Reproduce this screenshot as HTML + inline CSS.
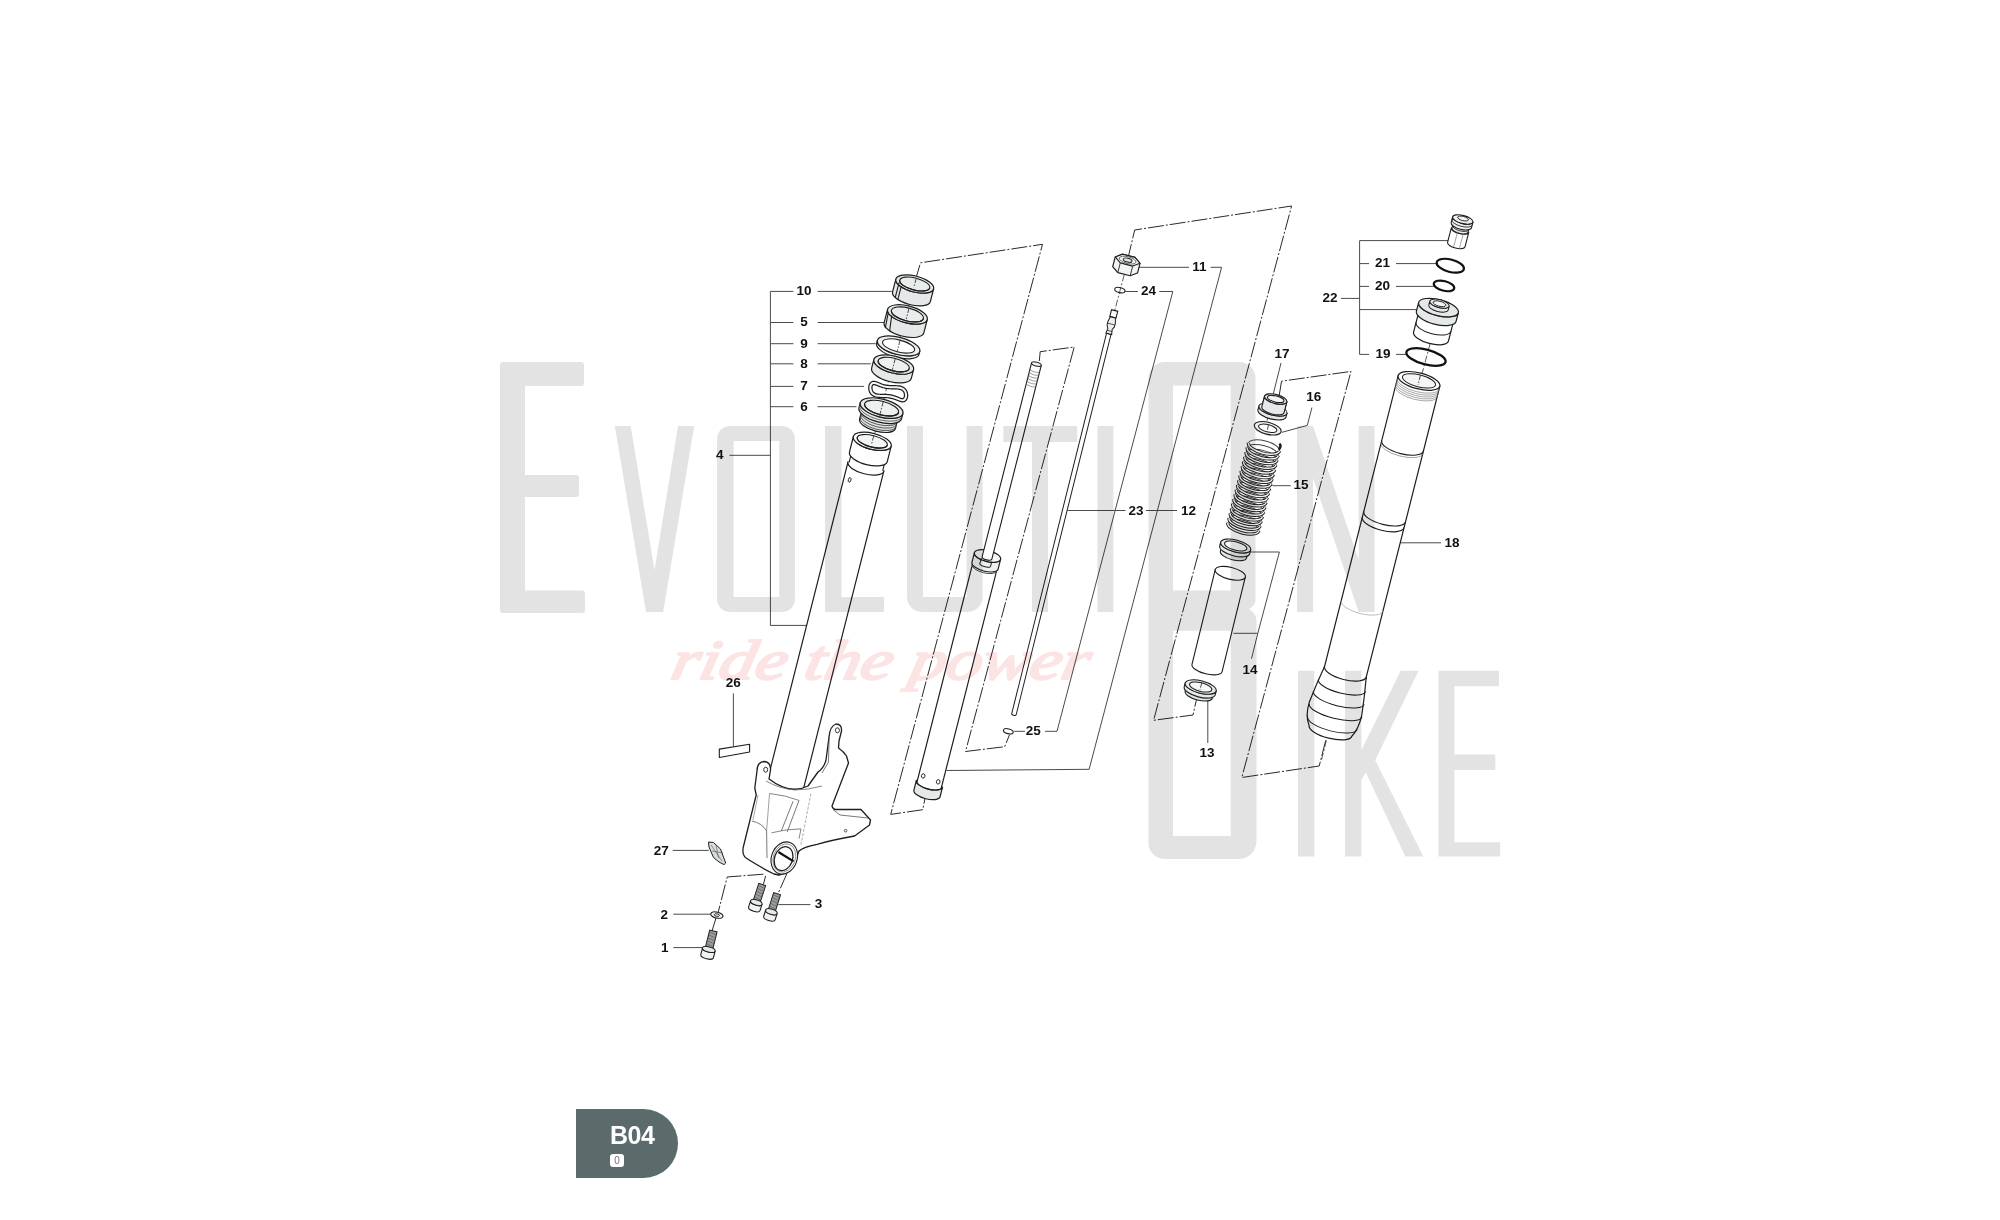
<!DOCTYPE html>
<html><head><meta charset="utf-8">
<style>
html,body{margin:0;padding:0;background:#fff;}
body{width:2000px;height:1220px;overflow:hidden;position:relative;font-family:"Liberation Sans",sans-serif;}
svg{position:absolute;left:0;top:0;}
.lb{font-family:"Liberation Sans",sans-serif;font-weight:bold;font-size:13.5px;fill:#111;}
.badge{position:absolute;left:576px;top:1109px;width:102px;height:69px;background:#5b6a6a;border-radius:0 35px 35px 0;}
.badge .t{position:absolute;left:34px;top:11px;color:#fff;font-weight:bold;font-size:25px;letter-spacing:-0.5px;line-height:30px;}
.badge .s{position:absolute;left:34px;top:45px;width:14px;height:13px;background:#fff;border-radius:3px;color:#6a7676;font-size:10px;line-height:13px;text-align:center;}
</style></head><body>
<svg width="2000" height="1220" viewBox="0 0 2000 1220">
<polyline points="793.4,291.4 770.4,291.4 770.4,625.4 813.8,625.4" fill="none" stroke="#4a4a4a" stroke-width="1.0" />
<line x1="770.4" y1="322.5" x2="793.4" y2="322.5" stroke="#4a4a4a" stroke-width="1.0" />
<line x1="770.4" y1="343.7" x2="793.4" y2="343.7" stroke="#4a4a4a" stroke-width="1.0" />
<line x1="770.4" y1="363.8" x2="793.4" y2="363.8" stroke="#4a4a4a" stroke-width="1.0" />
<line x1="770.4" y1="386.4" x2="793.4" y2="386.4" stroke="#4a4a4a" stroke-width="1.0" />
<line x1="770.4" y1="406.7" x2="793.4" y2="406.7" stroke="#4a4a4a" stroke-width="1.0" />
<line x1="729.5" y1="455.3" x2="770.4" y2="455.3" stroke="#4a4a4a" stroke-width="1.0" />
<line x1="817.6" y1="291.4" x2="891.8" y2="291.4" stroke="#4a4a4a" stroke-width="1.0" />
<line x1="817.6" y1="322.5" x2="884" y2="322.5" stroke="#4a4a4a" stroke-width="1.0" />
<line x1="817.6" y1="343.7" x2="875.7" y2="343.7" stroke="#4a4a4a" stroke-width="1.0" />
<line x1="817.6" y1="363.8" x2="870.8" y2="363.8" stroke="#4a4a4a" stroke-width="1.0" />
<line x1="817.6" y1="386.4" x2="864" y2="386.4" stroke="#4a4a4a" stroke-width="1.0" />
<line x1="817.6" y1="406.7" x2="856.4" y2="406.7" stroke="#4a4a4a" stroke-width="1.0" />
<line x1="733.4" y1="693.4" x2="733.4" y2="746.2" stroke="#4a4a4a" stroke-width="1.0" />
<line x1="672.7" y1="850.4" x2="708.8" y2="850.4" stroke="#4a4a4a" stroke-width="1.0" />
<line x1="673.3" y1="914.2" x2="710.6" y2="914.2" stroke="#4a4a4a" stroke-width="1.0" />
<line x1="673.3" y1="947.6" x2="703.1" y2="947.6" stroke="#4a4a4a" stroke-width="1.0" />
<line x1="778.3" y1="904.6" x2="810.4" y2="904.6" stroke="#4a4a4a" stroke-width="1.0" />
<line x1="1139.2" y1="267.3" x2="1189" y2="267.3" stroke="#4a4a4a" stroke-width="1.0" />
<polyline points="1210.6,267.3 1221.6,267.3 1089.1,769.3 946.5,770.5" fill="none" stroke="#4a4a4a" stroke-width="1.0" />
<line x1="1125.2" y1="291.5" x2="1137.8" y2="291.5" stroke="#4a4a4a" stroke-width="1.0" />
<polyline points="1159.3,291.5 1172.8,291.5 1057,731.3 1045.1,731.3" fill="none" stroke="#4a4a4a" stroke-width="1.0" />
<line x1="1014.2" y1="731.3" x2="1024.9" y2="731.3" stroke="#4a4a4a" stroke-width="1.0" />
<line x1="1067.5" y1="510.5" x2="1125.5" y2="510.5" stroke="#4a4a4a" stroke-width="1.0" />
<line x1="1146" y1="510.5" x2="1177" y2="510.5" stroke="#4a4a4a" stroke-width="1.0" />
<polyline points="1449,240.6 1359.6,240.6 1359.6,354.4 1369,354.4" fill="none" stroke="#4a4a4a" stroke-width="1.0" />
<line x1="1359.6" y1="263.6" x2="1369" y2="263.6" stroke="#4a4a4a" stroke-width="1.0" />
<line x1="1359.6" y1="286.4" x2="1369" y2="286.4" stroke="#4a4a4a" stroke-width="1.0" />
<line x1="1396" y1="263.6" x2="1437" y2="263.6" stroke="#4a4a4a" stroke-width="1.0" />
<line x1="1396" y1="286.4" x2="1434" y2="286.4" stroke="#4a4a4a" stroke-width="1.0" />
<line x1="1341" y1="298.4" x2="1359.6" y2="298.4" stroke="#4a4a4a" stroke-width="1.0" />
<line x1="1359.6" y1="309.6" x2="1418" y2="309.6" stroke="#4a4a4a" stroke-width="1.0" />
<line x1="1396" y1="354.4" x2="1406" y2="354.4" stroke="#4a4a4a" stroke-width="1.0" />
<line x1="1281" y1="363" x2="1273" y2="395" stroke="#4a4a4a" stroke-width="1.0" />
<polyline points="1282,432.3 1307.3,425.4 1311.9,407.6" fill="none" stroke="#4a4a4a" stroke-width="1.0" />
<line x1="1272.3" y1="485.7" x2="1290.7" y2="485.7" stroke="#4a4a4a" stroke-width="1.0" />
<line x1="1392.8" y1="542.8" x2="1441.1" y2="542.8" stroke="#4a4a4a" stroke-width="1.0" />
<polyline points="1251,552 1279.4,552 1257.8,633.3 1251.5,658.7" fill="none" stroke="#4a4a4a" stroke-width="1.0" />
<line x1="1233.4" y1="633.3" x2="1257.8" y2="633.3" stroke="#4a4a4a" stroke-width="1.0" />
<line x1="1207.8" y1="699.6" x2="1207.8" y2="743" stroke="#4a4a4a" stroke-width="1.0" />
<polyline points="915.4,280.2 920.5,262.8 1042.5,244.3 890.7,814.4 922.8,809.7 925.1,797.8" fill="none" stroke="#2a2a2a" stroke-width="1.0" stroke-dasharray="16 2 2 2"/>
<polyline points="1039.3,361 1040.2,351.7 1074.2,347 965.5,751.5 1004.7,746.7 1009.5,734.8" fill="none" stroke="#2a2a2a" stroke-width="1.0" stroke-dasharray="16 2 2 2"/>
<polyline points="1127.6,259.7 1134.7,230 1291.6,206 1153.6,720.3 1193,715 1196.8,698" fill="none" stroke="#2a2a2a" stroke-width="1.0" stroke-dasharray="16 2 2 2"/>
<polyline points="1279.2,395.6 1281.5,381.2 1351,371.4 1241.8,777.5 1319.2,766 1325.8,740.2" fill="none" stroke="#2a2a2a" stroke-width="1.0" stroke-dasharray="16 2 2 2"/>
<polyline points="763.4,874.2 727.2,877 718,913" fill="none" stroke="#2a2a2a" stroke-width="1.0" stroke-dasharray="16 2 2 2"/>
<polyline points="716,918 712,931" fill="none" stroke="#2a2a2a" stroke-width="1.0" stroke-dasharray="16 2 2 2"/>
<polyline points="765.6,875.9 763.4,884.5" fill="none" stroke="#2a2a2a" stroke-width="1.0" stroke-dasharray="16 2 2 2"/>
<polyline points="786.9,873.6 777.7,894.3" fill="none" stroke="#2a2a2a" stroke-width="1.0" stroke-dasharray="16 2 2 2"/>
<polyline points="914,284 871,448" fill="none" stroke="#333" stroke-width="0.8" stroke-dasharray="7 2 2 2"/>
<polyline points="1127.6,262 1114.6,311" fill="none" stroke="#333" stroke-width="0.8" stroke-dasharray="7 2 2 2"/>
<polyline points="1437,318 1419,385" fill="none" stroke="#333" stroke-width="0.8" stroke-dasharray="7 2 2 2"/>
<polyline points="1271,401 1265,432" fill="none" stroke="#333" stroke-width="0.8" stroke-dasharray="7 2 2 2"/>
<polyline points="1326.4,740.3 1321.5,760" fill="none" stroke="#333" stroke-width="0.8" stroke-dasharray="7 2 2 2"/>
<g transform="translate(913.1,290.4) rotate(14.5)">
<path d="M-19.5,-6.6L-19.5,6.6A19.5,8 0 0 0 19.5,6.6L19.5,-6.6A19.5,8 0 0 1 -19.5,-6.6Z" fill="#e4e8e8" stroke="#1e1e1e" stroke-width="1.2" stroke-linejoin="round"/>
<ellipse cx="0" cy="-6.6" rx="19.5" ry="8" fill="#e4e8e8" stroke="#1e1e1e" stroke-width="1.2" />
<ellipse cx="0" cy="-6.6" rx="15.5" ry="6" fill="#e9ecec" stroke="#1e1e1e" stroke-width="1.08" />
<path d="M-15.5,-6.6A15.5,6 0 0 0 15.5,-6.6" fill="none" stroke="#1e1e1e" stroke-width="1.2"/>
<line x1="-12.5" y1="-1.5" x2="-12.5" y2="12.5" stroke="#1e1e1e" stroke-width="1.1" />
<line x1="-15.5" y1="-4" x2="-15.5" y2="11" stroke="#1e1e1e" stroke-width="1.1" />
<line x1="0" y1="-12.6" x2="0" y2="-3" stroke="#333" stroke-width="0.8" stroke-dasharray="5 1.5 1.5 1.5"/>
</g>
<g transform="translate(905.7,321.1) rotate(14.5)">
<path d="M-20.5,-6.9L-20.5,6.9A20.5,8.5 0 0 0 20.5,6.9L20.5,-6.9A20.5,8.5 0 0 1 -20.5,-6.9Z" fill="#e4e8e8" stroke="#1e1e1e" stroke-width="1.2" stroke-linejoin="round"/>
<ellipse cx="0" cy="-6.9" rx="20.5" ry="8.5" fill="#e4e8e8" stroke="#1e1e1e" stroke-width="1.2" />
<ellipse cx="0" cy="-6.9" rx="16.5" ry="6.5" fill="#e9ecec" stroke="#1e1e1e" stroke-width="1.08" />
<path d="M-16.5,-6.9A16.5,6.5 0 0 0 16.5,-6.9" fill="none" stroke="#1e1e1e" stroke-width="1.2"/>
<path d="M-15,-2L-13,14M-19,-4L-18,12" fill="none" stroke="#1e1e1e" stroke-width="1.1" stroke-linejoin="round" />
<line x1="0" y1="-13.4" x2="0" y2="-2" stroke="#333" stroke-width="0.8" stroke-dasharray="5 1.5 1.5 1.5"/>
</g>
<g transform="translate(898.2,347.4) rotate(14.5)">
<path d="M-21.9,-1.5L-21.9,1.5A21.9,8.6 0 0 0 21.9,1.5L21.9,-1.5A21.9,8.6 0 0 1 -21.9,-1.5Z" fill="#eef0f0" stroke="#1e1e1e" stroke-width="1.2" stroke-linejoin="round"/>
<ellipse cx="0" cy="-1.5" rx="21.9" ry="8.6" fill="#eef0f0" stroke="#1e1e1e" stroke-width="1.2" />
<ellipse cx="0" cy="-1.5" rx="16.5" ry="6" fill="#ffffff" stroke="#1e1e1e" stroke-width="1.08" />
<line x1="0" y1="-7.5" x2="0" y2="4.5" stroke="#333" stroke-width="0.8" stroke-dasharray="5 1.5 1.5 1.5"/>
</g>
<g transform="translate(892.6,368.9) rotate(14.5)">
<path d="M-20.5,-4.5L-20.5,4.5A20.5,8.5 0 0 0 20.5,4.5L20.5,-4.5A20.5,8.5 0 0 1 -20.5,-4.5Z" fill="#e4e8e8" stroke="#1e1e1e" stroke-width="1.2" stroke-linejoin="round"/>
<ellipse cx="0" cy="-4.5" rx="20.5" ry="8.5" fill="#e4e8e8" stroke="#1e1e1e" stroke-width="1.2" />
<ellipse cx="0" cy="-4.5" rx="16" ry="6.3" fill="#eef0f0" stroke="#1e1e1e" stroke-width="1.08" />
<path d="M-16,-4.5A16,6.3 0 0 0 16,-4.5" fill="none" stroke="#1e1e1e" stroke-width="1.2"/>
<line x1="0" y1="-10.8" x2="0" y2="1" stroke="#333" stroke-width="0.8" stroke-dasharray="5 1.5 1.5 1.5"/>
</g>
<g transform="translate(888.2,391.6) rotate(14.5)">
<path d="M18.5,1.13 L18.45,1.89 L18.32,2.58 L18.1,3.19 L17.78,3.72 L17.38,4.15 L16.9,4.48 L16.33,4.72 L15.69,4.86 L14.97,4.92 L14.17,4.91 L13.31,4.85 L12.38,4.74 L11.39,4.6 L10.35,4.46 L9.25,4.33 L8.11,4.21 L6.93,4.14 L5.72,4.11 L4.48,4.13 L3.21,4.21 L1.93,4.35 L0.65,4.54 L-0.65,4.77 L-1.93,5.04 L-3.21,5.34 L-4.48,5.64 L-5.72,5.94 L-6.93,6.2 L-8.11,6.42 L-9.25,6.59 L-10.35,6.67 L-11.39,6.67 L-12.38,6.57 L-13.31,6.36 L-14.17,6.04 L-14.97,5.62 L-15.69,5.1 L-16.33,4.48 L-16.9,3.78 L-17.38,3.02 L-17.78,2.21 L-18.1,1.37 L-18.32,0.52 L-18.45,-0.32 L-18.5,-1.13 L-18.45,-1.89 L-18.32,-2.58 L-18.1,-3.19 L-17.78,-3.72 L-17.38,-4.15 L-16.9,-4.48 L-16.33,-4.72 L-15.69,-4.86 L-14.97,-4.92 L-14.17,-4.91 L-13.31,-4.85 L-12.38,-4.74 L-11.39,-4.6 L-10.35,-4.46 L-9.25,-4.33 L-8.11,-4.21 L-6.93,-4.14 L-5.72,-4.11 L-4.48,-4.13 L-3.21,-4.21 L-1.93,-4.35 L-0.65,-4.54 L0.65,-4.77 L1.93,-5.04 L3.21,-5.34 L4.48,-5.64 L5.72,-5.94 L6.93,-6.2 L8.11,-6.42 L9.25,-6.59 L10.35,-6.67 L11.39,-6.67 L12.38,-6.57 L13.31,-6.36 L14.17,-6.04 L14.97,-5.62 L15.69,-5.1 L16.33,-4.48 L16.9,-3.78 L17.38,-3.02 L17.78,-2.21 L18.1,-1.37 L18.32,-0.52 L18.45,0.32 L18.5,1.13Z" fill="none" stroke="#1e1e1e" stroke-width="4.4" stroke-linejoin="round" />
<path d="M18.5,1.13 L18.45,1.89 L18.32,2.58 L18.1,3.19 L17.78,3.72 L17.38,4.15 L16.9,4.48 L16.33,4.72 L15.69,4.86 L14.97,4.92 L14.17,4.91 L13.31,4.85 L12.38,4.74 L11.39,4.6 L10.35,4.46 L9.25,4.33 L8.11,4.21 L6.93,4.14 L5.72,4.11 L4.48,4.13 L3.21,4.21 L1.93,4.35 L0.65,4.54 L-0.65,4.77 L-1.93,5.04 L-3.21,5.34 L-4.48,5.64 L-5.72,5.94 L-6.93,6.2 L-8.11,6.42 L-9.25,6.59 L-10.35,6.67 L-11.39,6.67 L-12.38,6.57 L-13.31,6.36 L-14.17,6.04 L-14.97,5.62 L-15.69,5.1 L-16.33,4.48 L-16.9,3.78 L-17.38,3.02 L-17.78,2.21 L-18.1,1.37 L-18.32,0.52 L-18.45,-0.32 L-18.5,-1.13 L-18.45,-1.89 L-18.32,-2.58 L-18.1,-3.19 L-17.78,-3.72 L-17.38,-4.15 L-16.9,-4.48 L-16.33,-4.72 L-15.69,-4.86 L-14.97,-4.92 L-14.17,-4.91 L-13.31,-4.85 L-12.38,-4.74 L-11.39,-4.6 L-10.35,-4.46 L-9.25,-4.33 L-8.11,-4.21 L-6.93,-4.14 L-5.72,-4.11 L-4.48,-4.13 L-3.21,-4.21 L-1.93,-4.35 L-0.65,-4.54 L0.65,-4.77 L1.93,-5.04 L3.21,-5.34 L4.48,-5.64 L5.72,-5.94 L6.93,-6.2 L8.11,-6.42 L9.25,-6.59 L10.35,-6.67 L11.39,-6.67 L12.38,-6.57 L13.31,-6.36 L14.17,-6.04 L14.97,-5.62 L15.69,-5.1 L16.33,-4.48 L16.9,-3.78 L17.38,-3.02 L17.78,-2.21 L18.1,-1.37 L18.32,-0.52 L18.45,0.32 L18.5,1.13Z" fill="none" stroke="#f6f8f8" stroke-width="2.0" stroke-linejoin="round" />
</g>
<g transform="translate(880,414.2) rotate(14.5)">
<path d="M-18.5,-2L-18.5,10A18.5,7.5 0 0 0 18.5,10L18.5,-2A18.5,7.5 0 0 1 -18.5,-2Z" fill="#dfe3e3" stroke="#1e1e1e" stroke-width="1.2" stroke-linejoin="round"/>
<path d="M-18.5,3A18.5,7.5 0 0 0 18.5,3" fill="none" stroke="#444" stroke-width="0.8" />
<path d="M-18.5,5.5A18.5,7.5 0 0 0 18.5,5.5" fill="none" stroke="#444" stroke-width="0.8" />
<path d="M-18.5,8A18.5,7.5 0 0 0 18.5,8" fill="none" stroke="#444" stroke-width="0.8" />
<path d="M-22,-6.3L-22,-1A22,9 0 0 0 22,-1L22,-6.3A22,9 0 0 1 -22,-6.3Z" fill="#e4e8e8" stroke="#1e1e1e" stroke-width="1.2" stroke-linejoin="round"/>
<path d="M-22,-3.5A22,9 0 0 0 22,-3.5" fill="none" stroke="#555" stroke-width="0.8" />
<ellipse cx="0" cy="-6.3" rx="22" ry="9" fill="#e4e8e8" stroke="#1e1e1e" stroke-width="1.2" />
<ellipse cx="0" cy="-6.3" rx="17.5" ry="6.8" fill="#eef0f0" stroke="#1e1e1e" stroke-width="1.1" />
<path d="M-17.5,-6.3A17.5,6.8 0 0 0 17.5,-6.3" fill="none" stroke="#1e1e1e" stroke-width="1.3"/>
<line x1="0" y1="-13" x2="0" y2="2" stroke="#333" stroke-width="0.8" stroke-dasharray="5 1.5 1.5 1.5"/>
</g>
<g transform="translate(872.3,441.3) rotate(14.2)">
<path d="M-18.5,26L-18.5,372L18.5,372L18.5,26Z" fill="#ffffff" stroke="#1e1e1e" stroke-width="1.2"/>
<path d="M-17.3,14L-17.3,28L17.3,28L17.3,14Z" fill="#ffffff" stroke="#1e1e1e" stroke-width="1.1"/>
<path d="M-18.5,26A18.5,7.5 0 0 0 18.5,26" fill="#ffffff" stroke="#1e1e1e" stroke-width="1.2"/>
<path d="M-18.5,26L18.5,26" stroke="#fff" stroke-width="0"/>
<path d="M-19.5,0L-19.5,16A19.5,8 0 0 0 19.5,16L19.5,0A19.5,8 0 0 1 -19.5,0Z" fill="#ffffff" stroke="#1e1e1e" stroke-width="1.2" stroke-linejoin="round"/>
<ellipse cx="0" cy="0" rx="19.5" ry="8" fill="#ffffff" stroke="#1e1e1e" stroke-width="1.2" />
<ellipse cx="0" cy="0" rx="15.5" ry="5.8" fill="#f3f5f5" stroke="#1e1e1e" stroke-width="1.1" />
<path d="M-15.5,0A15.5,5.8 0 0 0 15.5,0" fill="none" stroke="#1e1e1e" stroke-width="1.2"/>
<ellipse cx="-12.5" cy="43" rx="1.3" ry="2.4" fill="none" stroke="#1e1e1e" stroke-width="0.9" />
<line x1="0" y1="-5.8" x2="0" y2="3" stroke="#333" stroke-width="0.8" stroke-dasharray="5 1.5 1.5 1.5"/>
</g>
<path d="M757,771 Q757,762 764,761.5 Q771,762 770.5,770 L769,779 Q790,795 808,786 L818,772 Q824,768 826,760 L829,737 Q830,726 836,724 Q842,724 841.5,731 L839,741 L838.5,748 Q844,752 846.5,756 L848.5,763 L832,806 Q833,809.5 836,809.5 L861,809.5 L870.5,820 L869.5,825 L854.6,836 Q832,840 817,844.3 Q803,847 799,851 Q796,860 792,866 Q786,874 779,875 L774,874 Q760,867 746,858 Q742,855 743.2,847.5 L756.2,795 L754.8,788 Z" fill="#ffffff" stroke="#1e1e1e" stroke-width="1.3" stroke-linejoin="round" />
<path d="M766,781 Q780,789 795,790 Q808,790 822,786" fill="none" stroke="#666" stroke-width="0.8" stroke-linejoin="round" />
<path d="M769.5,793.5 Q785,795 799,800.4" fill="none" stroke="#666" stroke-width="0.8" stroke-linejoin="round" />
<path d="M769.5,793.5 L766.6,830.9" fill="none" stroke="#777" stroke-width="0.7" stroke-linejoin="round" />
<path d="M758,795 L753,820" fill="none" stroke="#888" stroke-width="0.7" stroke-linejoin="round" />
<path d="M793.1,801.3 L781.3,830.9 M799,800.4 L787.2,831.9" fill="none" stroke="#555" stroke-width="0.8" stroke-linejoin="round" />
<path d="M751.8,821 Q762,823 766.6,830.9 L767,858" fill="none" stroke="#555" stroke-width="0.8" stroke-linejoin="round" />
<path d="M771.5,832.8 Q786,829 801,828.9 L799,838.7" fill="none" stroke="#666" stroke-width="0.8" stroke-linejoin="round" />
<path d="M810.9,793.5 L801,844.6" fill="none" stroke="#888" stroke-width="0.7" stroke-linejoin="round" stroke-dasharray="3 1.5"/>
<path d="M829.2,737.7 L828.4,762.3 L822,773" fill="none" stroke="#555" stroke-width="0.8" stroke-linejoin="round" />
<path d="M833,809.5 L840,815 L868,818" fill="none" stroke="#555" stroke-width="0.8" stroke-linejoin="round" />
<ellipse cx="765.7" cy="769.7" rx="2" ry="2.5" fill="none" stroke="#1e1e1e" stroke-width="0.9" />
<ellipse cx="837.4" cy="730.3" rx="2" ry="2.5" fill="none" stroke="#1e1e1e" stroke-width="0.9" />
<ellipse cx="845.6" cy="830.7" rx="1.3" ry="1.3" fill="none" stroke="#1e1e1e" stroke-width="0.7" />
<g transform="translate(784.3,858) rotate(20)">
<ellipse cx="0" cy="0" rx="12.8" ry="16.5" fill="#ffffff" stroke="#1e1e1e" stroke-width="1.1" />
<ellipse cx="0" cy="0" rx="11" ry="14.5" fill="none" stroke="#777" stroke-width="0.7" />
<ellipse cx="-0.5" cy="0.8" rx="9" ry="12.3" fill="#ffffff" stroke="#1e1e1e" stroke-width="1.3" />
</g>
<line x1="778.4" y1="852" x2="793.6" y2="861.4" stroke="#111" stroke-width="2.2" />
<g transform="translate(762.2,884.5) rotate(18)">
<rect x="-3.6" y="0" width="7.2" height="20" fill="#9a9e9e" stroke="#1e1e1e" stroke-width="1"/>
<line x1="-3.6" y1="2" x2="3.6" y2="3.2" stroke="#555" stroke-width="0.6" />
<line x1="-3.6" y1="5" x2="3.6" y2="6.2" stroke="#555" stroke-width="0.6" />
<line x1="-3.6" y1="8" x2="3.6" y2="9.2" stroke="#555" stroke-width="0.6" />
<line x1="-3.6" y1="11" x2="3.6" y2="12.2" stroke="#555" stroke-width="0.6" />
<line x1="-3.6" y1="14" x2="3.6" y2="15.2" stroke="#555" stroke-width="0.6" />
<line x1="-3.6" y1="17" x2="3.6" y2="18.2" stroke="#555" stroke-width="0.6" />
<path d="M-6,19L-6,25.5A6,2.6 0 0 0 6,25.5L6,19A6,2.6 0 0 1 -6,19Z" fill="#f0f2f2" stroke="#1e1e1e" stroke-width="1.1" stroke-linejoin="round"/>
<ellipse cx="0" cy="19" rx="6" ry="2.6" fill="#e6e9e9" stroke="#1e1e1e" stroke-width="1.0" />
</g>
<g transform="translate(777.1,893.7) rotate(17.5)">
<rect x="-3.6" y="0" width="7.2" height="20" fill="#9a9e9e" stroke="#1e1e1e" stroke-width="1"/>
<line x1="-3.6" y1="2" x2="3.6" y2="3.2" stroke="#555" stroke-width="0.6" />
<line x1="-3.6" y1="5" x2="3.6" y2="6.2" stroke="#555" stroke-width="0.6" />
<line x1="-3.6" y1="8" x2="3.6" y2="9.2" stroke="#555" stroke-width="0.6" />
<line x1="-3.6" y1="11" x2="3.6" y2="12.2" stroke="#555" stroke-width="0.6" />
<line x1="-3.6" y1="14" x2="3.6" y2="15.2" stroke="#555" stroke-width="0.6" />
<line x1="-3.6" y1="17" x2="3.6" y2="18.2" stroke="#555" stroke-width="0.6" />
<path d="M-6,19L-6,25.5A6,2.6 0 0 0 6,25.5L6,19A6,2.6 0 0 1 -6,19Z" fill="#f0f2f2" stroke="#1e1e1e" stroke-width="1.1" stroke-linejoin="round"/>
<ellipse cx="0" cy="19" rx="6" ry="2.6" fill="#e6e9e9" stroke="#1e1e1e" stroke-width="1.0" />
</g>
<g transform="translate(713.4,931) rotate(14)">
<rect x="-3.8" y="0" width="7.6" height="20" fill="#9a9e9e" stroke="#1e1e1e" stroke-width="1"/>
<line x1="-3.8" y1="2" x2="3.8" y2="3.2" stroke="#555" stroke-width="0.6" />
<line x1="-3.8" y1="5" x2="3.8" y2="6.2" stroke="#555" stroke-width="0.6" />
<line x1="-3.8" y1="8" x2="3.8" y2="9.2" stroke="#555" stroke-width="0.6" />
<line x1="-3.8" y1="11" x2="3.8" y2="12.2" stroke="#555" stroke-width="0.6" />
<line x1="-3.8" y1="14" x2="3.8" y2="15.2" stroke="#555" stroke-width="0.6" />
<line x1="-3.8" y1="17" x2="3.8" y2="18.2" stroke="#555" stroke-width="0.6" />
<path d="M-6.5,19L-6.5,26A6.5,2.6 0 0 0 6.5,26L6.5,19A6.5,2.6 0 0 1 -6.5,19Z" fill="#f0f2f2" stroke="#1e1e1e" stroke-width="1.1" stroke-linejoin="round"/>
<ellipse cx="0" cy="19" rx="6.5" ry="2.6" fill="#e6e9e9" stroke="#1e1e1e" stroke-width="1.0" />
</g>
<g transform="translate(716.9,915.1) rotate(12)">
<ellipse cx="0" cy="0" rx="6.3" ry="3" fill="#eef0f0" stroke="#1e1e1e" stroke-width="1.1" />
<ellipse cx="0" cy="0" rx="2.6" ry="1.2" fill="#ffffff" stroke="#1e1e1e" stroke-width="0.9" />
</g>
<path d="M708.5,842 L713.5,842.5 L720.5,849 L725.7,863 L724,864.6 L719,862 L713.5,857.5 L709,847 Z" fill="#d8dcdc" stroke="#1e1e1e" stroke-width="1.0" stroke-linejoin="round" />
<path d="M711,845 L722,861 M716,845 L718.5,858 M712,851 L723,853" fill="none" stroke="#555" stroke-width="0.6" stroke-linejoin="round" />
<path d="M719.3,749.1 L749.6,744.2 L749.6,752 L719.3,757.5 Z" fill="#ffffff" stroke="#1e1e1e" stroke-width="1.1" stroke-linejoin="round" />
<g transform="translate(987.5,556) rotate(14.3)">
<path d="M-12.5,10 L-12.5,243 A12.5,5 0 0 0 12.5,243 L12.5,10 Z" fill="#ffffff" stroke="#1e1e1e" stroke-width="1.2"/>
<path d="M-13.5,0L-13.5,10A13.5,5.5 0 0 0 13.5,10L13.5,0A13.5,5.5 0 0 1 -13.5,0Z" fill="#eef1f1" stroke="#1e1e1e" stroke-width="1.2" stroke-linejoin="round"/>
<ellipse cx="0" cy="0" rx="13.5" ry="5.5" fill="#f4f6f6" stroke="#1e1e1e" stroke-width="1.2" />
<path d="M-12.8,12A12.8,5.2 0 0 0 12.8,12" fill="none" stroke="#444" stroke-width="0.9" />
<path d="M-5.5,3.5 L-5.5,8.5 M5.5,4.5 L5.5,9.5" fill="none" stroke="#1e1e1e" stroke-width="1.0" stroke-linejoin="round" />
<path d="M-5.5,8.5 A5.5,2 0 0 0 5.5,9.5" fill="none" stroke="#1e1e1e" stroke-width="1.0" stroke-linejoin="round" />
<path d="M-5,-198 L-5,2 A5,2 0 0 0 5,2 L5,-198 Z" fill="#ffffff" stroke="#1e1e1e" stroke-width="1.1"/>
<ellipse cx="0" cy="-198" rx="5" ry="2" fill="#f0f2f2" stroke="#1e1e1e" stroke-width="1.0" />
<path d="M-5,-192A5,2 0 0 0 5,-192" fill="none" stroke="#666" stroke-width="0.6" />
<path d="M-5,-189A5,2 0 0 0 5,-189" fill="none" stroke="#666" stroke-width="0.6" />
<path d="M-5,-186A5,2 0 0 0 5,-186" fill="none" stroke="#666" stroke-width="0.6" />
<path d="M-5,-183A5,2 0 0 0 5,-183" fill="none" stroke="#666" stroke-width="0.6" />
<path d="M-5,-180A5,2 0 0 0 5,-180" fill="none" stroke="#666" stroke-width="0.6" />
<path d="M-5,-177A5,2 0 0 0 5,-177" fill="none" stroke="#666" stroke-width="0.6" />
<path d="M-13.5,235L-13.5,245A13.5,5.5 0 0 0 13.5,245L13.5,235A13.5,5.5 0 0 1 -13.5,235Z" fill="#e4e8e8" stroke="#1e1e1e" stroke-width="1.2" stroke-linejoin="round"/>
<path d="M-13.5,235A13.5,5.5 0 0 0 13.5,235" fill="none" stroke="#1e1e1e" stroke-width="1.2" />
<ellipse cx="-8" cy="229" rx="1.8" ry="2.2" fill="#ffffff" stroke="#1e1e1e" stroke-width="0.9" />
<ellipse cx="8" cy="231" rx="1.8" ry="2.2" fill="#ffffff" stroke="#1e1e1e" stroke-width="0.9" />
</g>
<g transform="translate(1114.6,310.5) rotate(14)">
<path d="M-2.3,24 L-2.3,416 A2.3,1.2 0 0 0 2.3,416 L2.3,24 Z" fill="#ffffff" stroke="#1e1e1e" stroke-width="1.0"/>
<rect x="-3.2" y="0" width="6.4" height="7" fill="#ffffff" stroke="#1e1e1e" stroke-width="1.1"/>
<path d="M-2.6,7 L-3.8,12 L-3.8,16 L-2.2,19 L-3,24 L3,24 L2.2,19 L3.8,16 L3.8,12 L2.6,7 Z" fill="#eef0f0" stroke="#1e1e1e" stroke-width="1.0"/>
<line x1="-3.8" y1="14" x2="3.8" y2="14" stroke="#1e1e1e" stroke-width="0.7" />
<line x1="-2.5" y1="21" x2="2.5" y2="21" stroke="#1e1e1e" stroke-width="0.7" />
</g>
<g transform="translate(1126.5,264.5) rotate(14.5)">
<path d="M12.8,-4.5 L12.8,5.5 L6.4,10 L-6.4,10 L-12.8,5.5 L-12.8,-4.5 L-6.4,-9 L6.4,-9 L12.8,-4.5Z" fill="#f2f4f4" stroke="#1e1e1e" stroke-width="1.2" stroke-linejoin="round" />
<path d="M12.8,-4.5 L6.4,0 L-6.4,0 L-12.8,-4.5 L-6.4,-9 L6.4,-9Z" fill="#f2f4f4" stroke="#1e1e1e" stroke-width="1.1" stroke-linejoin="round" />
<line x1="6.4" y1="0" x2="6.4" y2="10" stroke="#333" stroke-width="0.9" />
<line x1="-6.4" y1="0" x2="-6.4" y2="10" stroke="#333" stroke-width="0.9" />
<ellipse cx="0" cy="-4.5" rx="8.5" ry="3.4" fill="none" stroke="#555" stroke-width="0.8" />
<ellipse cx="0" cy="-4.5" rx="4.5" ry="1.9" fill="#dde1e1" stroke="#1e1e1e" stroke-width="1.0" />
</g>
<ellipse cx="1119.9" cy="290.2" rx="5.3" ry="2.5" fill="none" stroke="#1e1e1e" stroke-width="1.1" transform="rotate(14 1119.9 290.2)"/>
<ellipse cx="1008.3" cy="731.3" rx="5" ry="2.4" fill="none" stroke="#1e1e1e" stroke-width="1.1" transform="rotate(14 1008.3 731.3)"/>
<g transform="translate(1275.7,399) rotate(14.5)">
<path d="M-11.5,0L-11.5,11A11.5,4.5 0 0 0 11.5,11L11.5,0A11.5,4.5 0 0 1 -11.5,0Z" fill="#e4e8e8" stroke="#1e1e1e" stroke-width="1.1" stroke-linejoin="round"/>
<path d="M-14.5,11L-14.5,15A14.5,5.5 0 0 0 14.5,15L14.5,11A14.5,5.5 0 0 1 -14.5,11Z" fill="#e4e8e8" stroke="#1e1e1e" stroke-width="1.1" stroke-linejoin="round"/>
<ellipse cx="0" cy="11" rx="14.5" ry="5.5" fill="#e4e8e8" stroke="#1e1e1e" stroke-width="1.0" />
<path d="M-11.5,0L-11.5,11A11.5,4.5 0 0 0 11.5,11L11.5,0A11.5,4.5 0 0 1 -11.5,0Z" fill="#e4e8e8" stroke="#1e1e1e" stroke-width="1.1" stroke-linejoin="round"/>
<ellipse cx="0" cy="0" rx="11.5" ry="4.5" fill="#e4e8e8" stroke="#1e1e1e" stroke-width="1.1" />
<ellipse cx="0" cy="0" rx="8.5" ry="3" fill="#f3f5f5" stroke="#1e1e1e" stroke-width="1.0" />
</g>
<g transform="translate(1267.7,428.3) rotate(14.5)">
<ellipse cx="0" cy="0" rx="13.8" ry="6" fill="#eef0f0" stroke="#1e1e1e" stroke-width="1.1" />
<ellipse cx="0" cy="0" rx="9.5" ry="3.6" fill="#ffffff" stroke="#1e1e1e" stroke-width="1.0" />
<line x1="0" y1="-3.6" x2="0" y2="3.6" stroke="#333" stroke-width="0.8" stroke-dasharray="5 1.5 1.5 1.5"/>
</g>
<g transform="translate(1264,447) rotate(14.5)">
<path d="M-16,0A16,6.2 0 0 1 16,0" fill="none" stroke="#444" stroke-width="1.0"/>
<path d="M-16,4.85A16,6.2 0 0 1 16,4.85" fill="none" stroke="#444" stroke-width="1.0"/>
<path d="M-16,9.7A16,6.2 0 0 1 16,9.7" fill="none" stroke="#444" stroke-width="1.0"/>
<path d="M-16,14.55A16,6.2 0 0 1 16,14.55" fill="none" stroke="#444" stroke-width="1.0"/>
<path d="M-16,19.4A16,6.2 0 0 1 16,19.4" fill="none" stroke="#444" stroke-width="1.0"/>
<path d="M-16,24.25A16,6.2 0 0 1 16,24.25" fill="none" stroke="#444" stroke-width="1.0"/>
<path d="M-16,29.1A16,6.2 0 0 1 16,29.1" fill="none" stroke="#444" stroke-width="1.0"/>
<path d="M-16,33.95A16,6.2 0 0 1 16,33.95" fill="none" stroke="#444" stroke-width="1.0"/>
<path d="M-16,38.8A16,6.2 0 0 1 16,38.8" fill="none" stroke="#444" stroke-width="1.0"/>
<path d="M-16,43.65A16,6.2 0 0 1 16,43.65" fill="none" stroke="#444" stroke-width="1.0"/>
<path d="M-16,48.5A16,6.2 0 0 1 16,48.5" fill="none" stroke="#444" stroke-width="1.0"/>
<path d="M-16,53.35A16,6.2 0 0 1 16,53.35" fill="none" stroke="#444" stroke-width="1.0"/>
<path d="M-16,58.2A16,6.2 0 0 1 16,58.2" fill="none" stroke="#444" stroke-width="1.0"/>
<path d="M-16,63.05A16,6.2 0 0 1 16,63.05" fill="none" stroke="#444" stroke-width="1.0"/>
<path d="M-16,67.9A16,6.2 0 0 1 16,67.9" fill="none" stroke="#444" stroke-width="1.0"/>
<path d="M-16,72.75A16,6.2 0 0 1 16,72.75" fill="none" stroke="#444" stroke-width="1.0"/>
<path d="M-16,77.6A16,6.2 0 0 1 16,77.6" fill="none" stroke="#444" stroke-width="1.0"/>
<path d="M-16,82.45A16,6.2 0 0 1 16,82.45" fill="none" stroke="#444" stroke-width="1.0"/>
<path d="M-16,0A16,6.2 0 0 0 16,0" fill="none" stroke="#1e1e1e" stroke-width="3.3"/>
<path d="M-16,0A16,6.2 0 0 0 16,0" fill="none" stroke="#f4f6f6" stroke-width="1.4"/>
<path d="M-16,4.85A16,6.2 0 0 0 16,4.85" fill="none" stroke="#1e1e1e" stroke-width="3.3"/>
<path d="M-16,4.85A16,6.2 0 0 0 16,4.85" fill="none" stroke="#f4f6f6" stroke-width="1.4"/>
<path d="M-16,9.7A16,6.2 0 0 0 16,9.7" fill="none" stroke="#1e1e1e" stroke-width="3.3"/>
<path d="M-16,9.7A16,6.2 0 0 0 16,9.7" fill="none" stroke="#f4f6f6" stroke-width="1.4"/>
<path d="M-16,14.55A16,6.2 0 0 0 16,14.55" fill="none" stroke="#1e1e1e" stroke-width="3.3"/>
<path d="M-16,14.55A16,6.2 0 0 0 16,14.55" fill="none" stroke="#f4f6f6" stroke-width="1.4"/>
<path d="M-16,19.4A16,6.2 0 0 0 16,19.4" fill="none" stroke="#1e1e1e" stroke-width="3.3"/>
<path d="M-16,19.4A16,6.2 0 0 0 16,19.4" fill="none" stroke="#f4f6f6" stroke-width="1.4"/>
<path d="M-16,24.25A16,6.2 0 0 0 16,24.25" fill="none" stroke="#1e1e1e" stroke-width="3.3"/>
<path d="M-16,24.25A16,6.2 0 0 0 16,24.25" fill="none" stroke="#f4f6f6" stroke-width="1.4"/>
<path d="M-16,29.1A16,6.2 0 0 0 16,29.1" fill="none" stroke="#1e1e1e" stroke-width="3.3"/>
<path d="M-16,29.1A16,6.2 0 0 0 16,29.1" fill="none" stroke="#f4f6f6" stroke-width="1.4"/>
<path d="M-16,33.95A16,6.2 0 0 0 16,33.95" fill="none" stroke="#1e1e1e" stroke-width="3.3"/>
<path d="M-16,33.95A16,6.2 0 0 0 16,33.95" fill="none" stroke="#f4f6f6" stroke-width="1.4"/>
<path d="M-16,38.8A16,6.2 0 0 0 16,38.8" fill="none" stroke="#1e1e1e" stroke-width="3.3"/>
<path d="M-16,38.8A16,6.2 0 0 0 16,38.8" fill="none" stroke="#f4f6f6" stroke-width="1.4"/>
<path d="M-16,43.65A16,6.2 0 0 0 16,43.65" fill="none" stroke="#1e1e1e" stroke-width="3.3"/>
<path d="M-16,43.65A16,6.2 0 0 0 16,43.65" fill="none" stroke="#f4f6f6" stroke-width="1.4"/>
<path d="M-16,48.5A16,6.2 0 0 0 16,48.5" fill="none" stroke="#1e1e1e" stroke-width="3.3"/>
<path d="M-16,48.5A16,6.2 0 0 0 16,48.5" fill="none" stroke="#f4f6f6" stroke-width="1.4"/>
<path d="M-16,53.35A16,6.2 0 0 0 16,53.35" fill="none" stroke="#1e1e1e" stroke-width="3.3"/>
<path d="M-16,53.35A16,6.2 0 0 0 16,53.35" fill="none" stroke="#f4f6f6" stroke-width="1.4"/>
<path d="M-16,58.2A16,6.2 0 0 0 16,58.2" fill="none" stroke="#1e1e1e" stroke-width="3.3"/>
<path d="M-16,58.2A16,6.2 0 0 0 16,58.2" fill="none" stroke="#f4f6f6" stroke-width="1.4"/>
<path d="M-16,63.05A16,6.2 0 0 0 16,63.05" fill="none" stroke="#1e1e1e" stroke-width="3.3"/>
<path d="M-16,63.05A16,6.2 0 0 0 16,63.05" fill="none" stroke="#f4f6f6" stroke-width="1.4"/>
<path d="M-16,67.9A16,6.2 0 0 0 16,67.9" fill="none" stroke="#1e1e1e" stroke-width="3.3"/>
<path d="M-16,67.9A16,6.2 0 0 0 16,67.9" fill="none" stroke="#f4f6f6" stroke-width="1.4"/>
<path d="M-16,72.75A16,6.2 0 0 0 16,72.75" fill="none" stroke="#1e1e1e" stroke-width="3.3"/>
<path d="M-16,72.75A16,6.2 0 0 0 16,72.75" fill="none" stroke="#f4f6f6" stroke-width="1.4"/>
<path d="M-16,77.6A16,6.2 0 0 0 16,77.6" fill="none" stroke="#1e1e1e" stroke-width="3.3"/>
<path d="M-16,77.6A16,6.2 0 0 0 16,77.6" fill="none" stroke="#f4f6f6" stroke-width="1.4"/>
<path d="M-16,82.45A16,6.2 0 0 0 16,82.45" fill="none" stroke="#1e1e1e" stroke-width="3.3"/>
<path d="M-16,82.45A16,6.2 0 0 0 16,82.45" fill="none" stroke="#f4f6f6" stroke-width="1.4"/>
<path d="M15,-1 Q17,-6 14,-7" fill="none" stroke="#1e1e1e" stroke-width="2.6"/>
</g>
<g transform="translate(1235.7,546) rotate(14.5)">
<path d="M-13.5,3L-13.5,9A13.5,5.2 0 0 0 13.5,9L13.5,3A13.5,5.2 0 0 1 -13.5,3Z" fill="#dfe3e3" stroke="#1e1e1e" stroke-width="1.1" stroke-linejoin="round"/>
<path d="M-15.5,0L-15.5,4A15.5,6 0 0 0 15.5,4L15.5,0A15.5,6 0 0 1 -15.5,0Z" fill="#e4e8e8" stroke="#1e1e1e" stroke-width="1.1" stroke-linejoin="round"/>
<ellipse cx="0" cy="0" rx="15.5" ry="6" fill="#e4e8e8" stroke="#1e1e1e" stroke-width="1.1" />
<ellipse cx="0" cy="0" rx="11.5" ry="4.2" fill="#f6f8f8" stroke="#1e1e1e" stroke-width="1.0" />
</g>
<g transform="translate(1230.3,573.3) rotate(13.8)">
<path d="M-15.5,0 L-15.5,97.5 A15.5,6 0 0 0 15.5,97.5 L15.5,0 Z" fill="#ffffff" stroke="#1e1e1e" stroke-width="1.1"/>
<ellipse cx="0" cy="0" rx="15.5" ry="6" fill="#ffffff" stroke="#1e1e1e" stroke-width="1.1" />
</g>
<g transform="translate(1200.7,687) rotate(14.5)">
<path d="M-14,3L-14,8A14,5.4 0 0 0 14,8L14,3A14,5.4 0 0 1 -14,3Z" fill="#dfe3e3" stroke="#1e1e1e" stroke-width="1.1" stroke-linejoin="round"/>
<path d="M-16,0L-16,4A16,6.2 0 0 0 16,4L16,0A16,6.2 0 0 1 -16,0Z" fill="#e4e8e8" stroke="#1e1e1e" stroke-width="1.1" stroke-linejoin="round"/>
<ellipse cx="0" cy="0" rx="16" ry="6.2" fill="#e4e8e8" stroke="#1e1e1e" stroke-width="1.1" />
<ellipse cx="0" cy="0" rx="11.5" ry="4.3" fill="#f6f8f8" stroke="#1e1e1e" stroke-width="1.0" />
<line x1="0" y1="-4.3" x2="0" y2="3" stroke="#333" stroke-width="0.8" stroke-dasharray="5 1.5 1.5 1.5"/>
</g>
<g transform="translate(1462.8,219.5) rotate(14.5)">
<path d="M-9,11L-9,26A9,3.5 0 0 0 9,26L9,11A9,3.5 0 0 1 -9,11Z" fill="#ffffff" stroke="#1e1e1e" stroke-width="1.1" stroke-linejoin="round"/>
<path d="M-8.3,6L-8.3,11A8.3,3.2 0 0 0 8.3,11L8.3,6A8.3,3.2 0 0 1 -8.3,6Z" fill="#eef0f0" stroke="#1e1e1e" stroke-width="1.0" stroke-linejoin="round"/>
<path d="M-10.5,0L-10.5,6A10.5,4 0 0 0 10.5,6L10.5,0A10.5,4 0 0 1 -10.5,0Z" fill="#eef0f0" stroke="#1e1e1e" stroke-width="1.1" stroke-linejoin="round"/>
<path d="M-10.5,3A10.5,4 0 0 0 10.5,3" fill="none" stroke="#1e1e1e" stroke-width="0.8" />
<path d="M-8.3,8.5A8.3,3.2 0 0 0 8.3,8.5" fill="none" stroke="#1e1e1e" stroke-width="0.8" />
<ellipse cx="0" cy="0" rx="10.5" ry="4" fill="#eef0f0" stroke="#1e1e1e" stroke-width="1.1" />
<ellipse cx="0" cy="-1" rx="5.5" ry="2.1" fill="#f4f6f6" stroke="#1e1e1e" stroke-width="0.9" />
<line x1="-2" y1="13" x2="-2" y2="29" stroke="#777" stroke-width="0.6" />
<line x1="4" y1="13" x2="4" y2="29" stroke="#777" stroke-width="0.6" />
</g>
<ellipse cx="1450.3" cy="265.7" rx="14" ry="6.2" fill="none" stroke="#111" stroke-width="2.2" transform="rotate(14.5 1450.3 265.7)"/>
<ellipse cx="1444" cy="285.9" rx="10.5" ry="4.8" fill="none" stroke="#111" stroke-width="2.2" transform="rotate(14.5 1444 285.9)"/>
<g transform="translate(1438.5,307.6) rotate(14.5)">
<path d="M-18,9L-18,30A18,7 0 0 0 18,30L18,9A18,7 0 0 1 -18,9Z" fill="#ffffff" stroke="#1e1e1e" stroke-width="1.2" stroke-linejoin="round"/>
<path d="M-18,20A18,7 0 0 0 18,20" fill="none" stroke="#1e1e1e" stroke-width="1.0" />
<path d="M-20.5,0L-20.5,9A20.5,8 0 0 0 20.5,9L20.5,0A20.5,8 0 0 1 -20.5,0Z" fill="#e4e8e8" stroke="#1e1e1e" stroke-width="1.2" stroke-linejoin="round"/>
<ellipse cx="0" cy="0" rx="20.5" ry="8" fill="#e4e8e8" stroke="#1e1e1e" stroke-width="1.2" />
<path d="M-10,-4L-10,0A10,4 0 0 0 10,0L10,-4A10,4 0 0 1 -10,-4Z" fill="#e4e8e8" stroke="#1e1e1e" stroke-width="1.0" stroke-linejoin="round"/>
<ellipse cx="0" cy="-4" rx="10" ry="4" fill="#e4e8e8" stroke="#1e1e1e" stroke-width="1.0" />
<ellipse cx="0" cy="-4" rx="6.5" ry="2.5" fill="#f4f6f6" stroke="#1e1e1e" stroke-width="0.9" />
</g>
<ellipse cx="1426" cy="357" rx="20.2" ry="7.4" fill="none" stroke="#111" stroke-width="2.3" transform="rotate(14.5 1426 357)"/>
<g transform="translate(1419,380.9) rotate(14.2)">
<path d="M-21.5,0 L-21.5,142 L-21.5,302 L21.5,302 L21.5,0 Z" fill="#ffffff" stroke="#1e1e1e" stroke-width="1.2"/>
<path d="M-21.5,300 Q-25,318 -27.5,338 Q-28.5,352 -22,361 A22,7.5 0 0 0 22,361 Q27,352 26.5,338 Q24.5,318 21.5,300 Z" fill="#ffffff" stroke="none"/>
<path d="M-21.5,300 Q-25,318 -27.5,338 Q-28.5,352 -22,361 A22,7.5 0 0 0 22,361 Q27,352 26.5,338 Q24.5,318 21.5,300" fill="none" stroke="#1e1e1e" stroke-width="1.2"/>
<path d="M-21.5,300A21.5,8 0 0 0 21.5,300" fill="none" stroke="#1e1e1e" stroke-width="1.1" />
<path d="M-24.3,314A24.3,8 0 0 0 24.3,314" fill="none" stroke="#1e1e1e" stroke-width="1.1" />
<path d="M-26.2,327A26.2,8 0 0 0 26.2,327" fill="none" stroke="#1e1e1e" stroke-width="1.1" />
<path d="M-27.2,340A27.2,8 0 0 0 27.2,340" fill="none" stroke="#1e1e1e" stroke-width="1.1" />
<path d="M-25.5,353A25.5,8 0 0 0 25.5,353" fill="none" stroke="#1e1e1e" stroke-width="1.0" />
<path d="M-21.5,67A21.5,8 0 0 0 21.5,67" fill="none" stroke="#1e1e1e" stroke-width="1.1" />
<path d="M-21.5,69.5A21.5,8 0 0 0 21.5,69.5" fill="none" stroke="#777" stroke-width="0.6" />
<path d="M-21.5,140A21.5,8 0 0 0 21.5,140" fill="none" stroke="#1e1e1e" stroke-width="1.1" />
<path d="M-21.5,146A21.5,8 0 0 0 21.5,146" fill="none" stroke="#1e1e1e" stroke-width="1.1" />
<path d="M-21.5,232A21.5,8 0 0 0 21.5,232" fill="none" stroke="#999" stroke-width="0.6" />
<ellipse cx="0" cy="0" rx="21.5" ry="8" fill="#ffffff" stroke="#1e1e1e" stroke-width="1.2" />
<ellipse cx="0" cy="0" rx="17" ry="6" fill="#f4f6f6" stroke="#1e1e1e" stroke-width="1.0" />
<path d="M-21.5,3A21.5,8 0 0 0 21.5,3" fill="none" stroke="#777" stroke-width="0.6" />
<path d="M-21.5,5A21.5,8 0 0 0 21.5,5" fill="none" stroke="#777" stroke-width="0.6" />
<path d="M-21.5,7A21.5,8 0 0 0 21.5,7" fill="none" stroke="#777" stroke-width="0.6" />
<path d="M-21.5,9A21.5,8 0 0 0 21.5,9" fill="none" stroke="#777" stroke-width="0.6" />
<path d="M-21.5,11A21.5,8 0 0 0 21.5,11" fill="none" stroke="#777" stroke-width="0.6" />
<line x1="0" y1="-6" x2="0" y2="4" stroke="#333" stroke-width="0.8" stroke-dasharray="5 1.5 1.5 1.5"/>
</g>
<g fill="#000" fill-opacity="0.11" fill-rule="evenodd">
 <path d="M503 362H581a3 3 0 0 1 3 3V383a3 3 0 0 1-3 3H525V475H576a3 3 0 0 1 3 3V494a3 3 0 0 1-3 3H525V590.5H582a3 3 0 0 1 3 3V610a3 3 0 0 1-3 3H503a3 3 0 0 1-3-3V365a3 3 0 0 1 3-3Z"/>
 <path d="M614.8 426H630.7L654.5 570L678 426H694.2L663.2 612H646Z"/>
 <path d="M730 426H782a13 13 0 0 1 13 13V599a13 13 0 0 1-13 13H730a13 13 0 0 1-13-13V439a13 13 0 0 1 13-13ZM733.6 441V597H779.2V441Z"/>
 <path d="M825 426H841.5V597H884V612H825Z"/>
 <path d="M907 426H923V597H966.6V426H982.6V597a15 15 0 0 1-15 15H922a15 15 0 0 1-15-15Z"/>
 <path d="M1003.3 426H1077.2V442H1048V612H1032V442H1003.3Z"/>
 <path d="M1097.4 426H1113.4V612H1097.4Z"/>
 <path d="M1164.5 362H1239.5a16 16 0 0 1 16 16V600Q1255.5 605 1249 609Q1256.5 614 1256.5 620V841a18 18 0 0 1-18 18H1164.5a16 16 0 0 1-16-16V378a16 16 0 0 1 16-16ZM1173 385.5V590.5H1230.7V385.5ZM1173 630.7V836H1230.7V630.7Z"/>
 <path d="M1297 426H1313L1358.7 560V426H1374.6V612H1358.7L1313 478V612H1297Z"/>
 <path d="M1297.9 670.7H1314.3V856.4H1297.9Z"/>
 <path d="M1345 670.7H1361.4V749.9L1400.7 670.7H1418.6L1375.2 760.3L1423.3 856.4H1405.4L1365.8 772.5L1361.4 780.1V856.4H1345Z"/>
 <path d="M1438.4 670.7H1499V686.2H1454.4V754.6H1495.3V770H1454.4V842.3H1500.2V856.4H1438.4Z"/>
</g>
<text x="0" y="0" transform="translate(669,678.5) skewX(-12)" font-family="Liberation Serif" font-style="italic" font-size="56" fill="#fce3e4" stroke="#fce3e4" stroke-width="2.2" stroke-linejoin="round" style="mix-blend-mode:multiply" textLength="418" lengthAdjust="spacingAndGlyphs">ride the power</text>
<text x="804" y="295.2" class="lb" text-anchor="middle">10</text>
<text x="804" y="326.3" class="lb" text-anchor="middle">5</text>
<text x="804" y="347.5" class="lb" text-anchor="middle">9</text>
<text x="804" y="367.6" class="lb" text-anchor="middle">8</text>
<text x="804" y="390.2" class="lb" text-anchor="middle">7</text>
<text x="804" y="410.5" class="lb" text-anchor="middle">6</text>
<text x="719.7" y="459.1" class="lb" text-anchor="middle">4</text>
<text x="733.2" y="686.9" class="lb" text-anchor="middle">26</text>
<text x="661.2" y="854.5" class="lb" text-anchor="middle">27</text>
<text x="664.3" y="918.7" class="lb" text-anchor="middle">2</text>
<text x="664.7" y="952" class="lb" text-anchor="middle">1</text>
<text x="818.4" y="908.4" class="lb" text-anchor="middle">3</text>
<text x="1199.5" y="271.1" class="lb" text-anchor="middle">11</text>
<text x="1148.5" y="295.1" class="lb" text-anchor="middle">24</text>
<text x="1136" y="514.8" class="lb" text-anchor="middle">23</text>
<text x="1188.5" y="514.8" class="lb" text-anchor="middle">12</text>
<text x="1033.2" y="735.1" class="lb" text-anchor="middle">25</text>
<text x="1382.4" y="267.4" class="lb" text-anchor="middle">21</text>
<text x="1382.4" y="290.2" class="lb" text-anchor="middle">20</text>
<text x="1330" y="302.2" class="lb" text-anchor="middle">22</text>
<text x="1383" y="358.2" class="lb" text-anchor="middle">19</text>
<text x="1282" y="358.2" class="lb" text-anchor="middle">17</text>
<text x="1313.8" y="401.3" class="lb" text-anchor="middle">16</text>
<text x="1301" y="489.1" class="lb" text-anchor="middle">15</text>
<text x="1452" y="546.8" class="lb" text-anchor="middle">18</text>
<text x="1250" y="673.9" class="lb" text-anchor="middle">14</text>
<text x="1207" y="757.3" class="lb" text-anchor="middle">13</text>
</svg>
<div class="badge"><div class="t">B04</div><div class="s">0</div></div>
</body></html>
